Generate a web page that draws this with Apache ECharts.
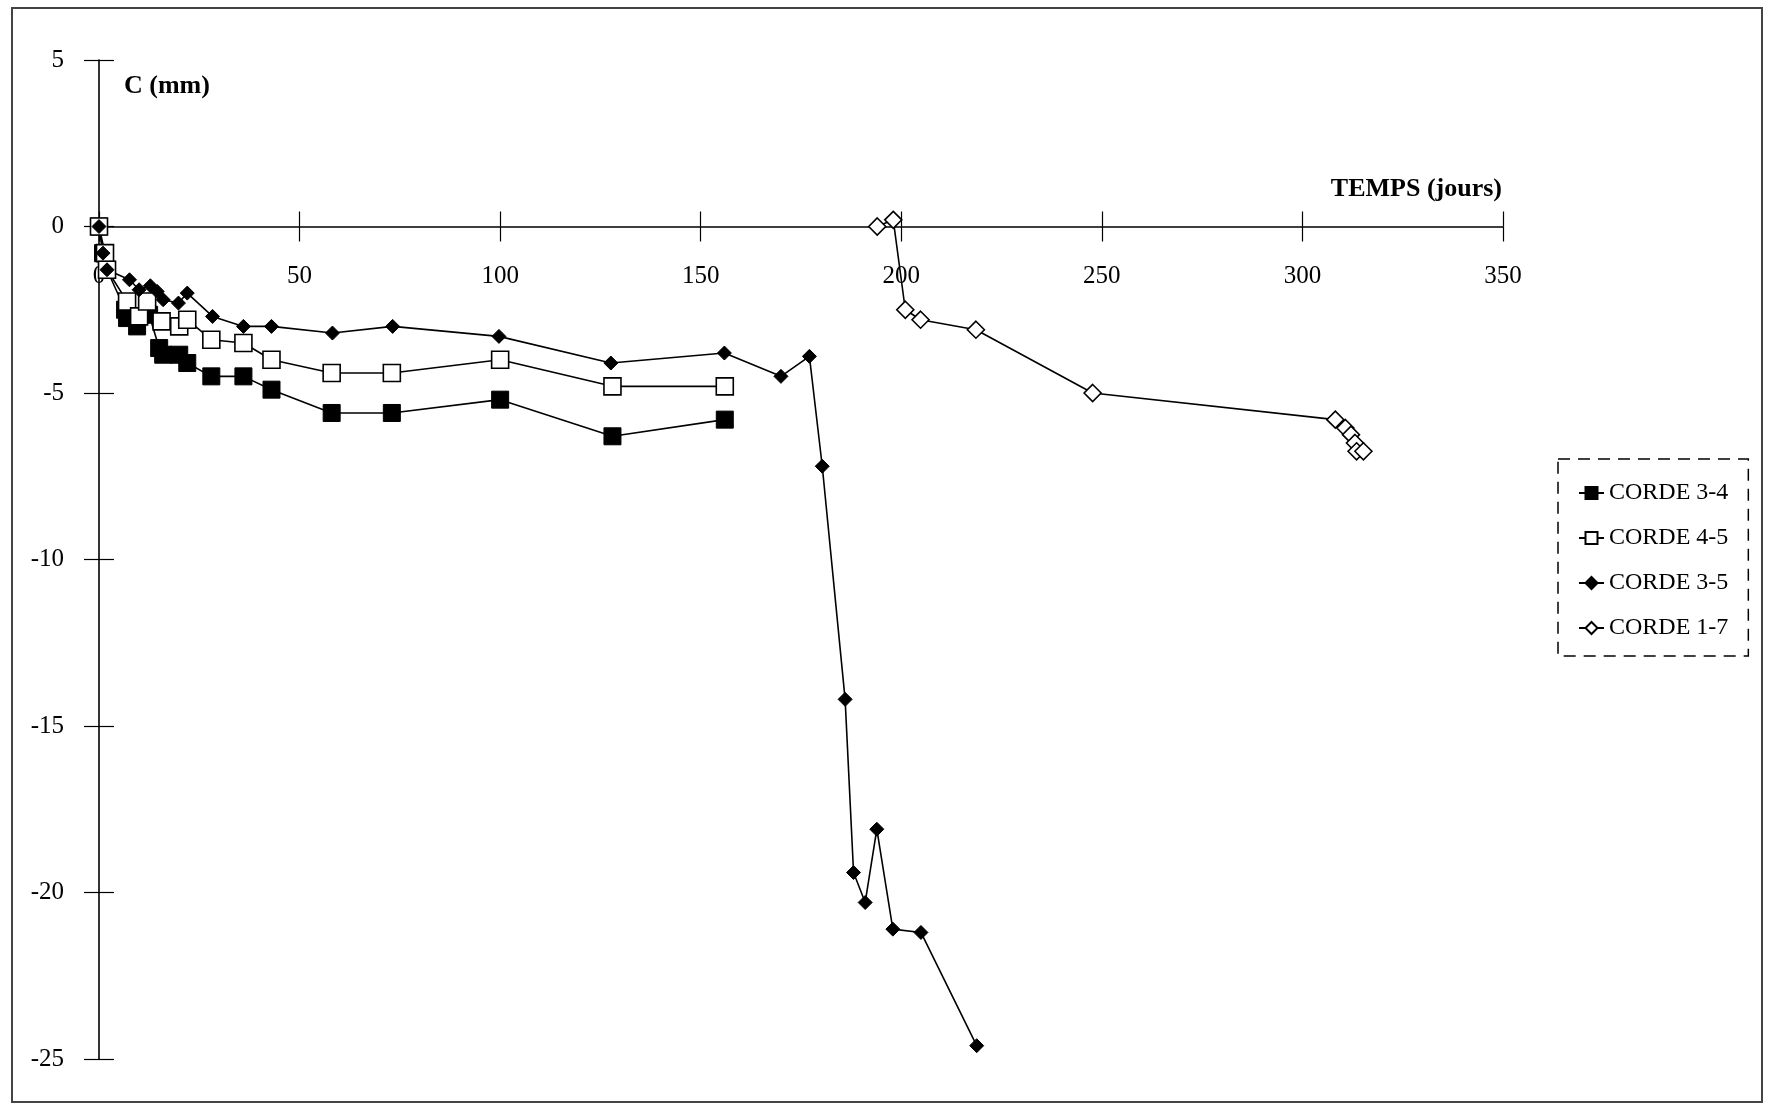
<!DOCTYPE html>
<html>
<head>
<meta charset="utf-8">
<script src="https://cdn.jsdelivr.net/npm/echarts@6/dist/echarts.min.js"></script>
<style>
html,body{margin:0;padding:0;background:#fff;}
#chart{width:1768px;height:1105px;}
</style>
</head>
<body>
<div id="chart"></div>
<script>
// ---- data (x: jours, y: C in mm) ----
const seriesNames = ['CORDE 3-4', 'CORDE 4-5', 'CORDE 3-5', 'CORDE 1-7'];

const corde34 = [[0,0],[1,-0.8],[2,-1.3],[6.5,-2.5],[7,-2.75],[9.5,-3.0],[12.5,-2.65],[15,-3.65],[16,-3.85],[20,-3.85],[22,-4.1],[28,-4.5],[36,-4.5],[43,-4.9],[58,-5.6],[73,-5.6],[100,-5.2],[128,-6.3],[156,-5.8]];

const corde45 = [[0,0],[1.5,-0.8],[2,-1.3],[7,-2.25],[10,-2.7],[12,-2.25],[15.6,-2.85],[20,-3.0],[22,-2.8],[28,-3.4],[36,-3.5],[43,-4.0],[58,-4.4],[73,-4.4],[100,-4.0],[128,-4.8],[156,-4.8]];

const corde35 = [[0,0],[1,-0.8],[2,-1.3],[7.6,-1.6],[10,-1.9],[12.8,-1.78],[14.5,-1.95],[16,-2.2],[19.8,-2.3],[22,-2.0],[28.3,-2.7],[36,-3.0],[43,-3.0],[58.2,-3.2],[73.2,-3.0],[99.7,-3.3],[127.6,-4.1],[155.9,-3.8],[170,-4.5],[177.1,-3.9],[180.3,-7.2],[186,-14.2],[188.1,-19.4],[191,-20.3],[193.9,-18.1],[197.9,-21.1],[204.9,-21.2],[218.8,-24.6]];

const corde17 = [[194,0],[198,0.2],[201,-2.5],[204.8,-2.8],[218.6,-3.1],[247.7,-5.0],[308.2,-5.8],[310.7,-6.05],[312.1,-6.25],[313.1,-6.5],[313.5,-6.75],[315.2,-6.75]];

const xTicks = {min: 0, max: 350, interval: 50};
const yTicks = {min: -25, max: 5, interval: 5};

const FONT = 'Liberation Serif';
const chart = echarts.init(document.getElementById('chart'), null, {renderer: 'canvas'});

// grid geometry
const GRID_TOP = 60, GRID_H = 999;
// distance of the value-0 line below the grid top
const zeroOffset = GRID_H * (yTicks.max - 0) / (yTicks.max - yTicks.min);

const lineStyle = {color: '#000', width: 1.6};
function mkSeries(name, data, symbol, size, filled) {
  return {
    name: name, type: 'line', data: data, symbol: symbol, symbolSize: size,
    xAxisIndex: 0, yAxisIndex: 0,
    lineStyle: lineStyle,
    itemStyle: filled ? {color: '#000', borderColor: '#000', borderWidth: 1}
                      : {color: '#fff', borderColor: '#000', borderWidth: 1.6},
    emphasis: {disabled: true},
    animation: false
  };
}

const baseX = {type: 'value', min: xTicks.min, max: xTicks.max, interval: xTicks.interval, splitLine: {show: false}};
const baseY = {type: 'value', min: yTicks.min, max: yTicks.max, interval: yTicks.interval, splitLine: {show: false}};

chart.setOption({
  backgroundColor: '#fff',
  animation: false,
  grid: {left: 99, top: GRID_TOP, width: 1404, height: GRID_H, containLabel: false},
  xAxis: [
    Object.assign({}, baseX, {
      position: 'top', offset: -zeroOffset,
      axisLine: {show: true, onZero: false, lineStyle: {color: '#000', width: 1.6}},
      axisTick: {show: true, inside: true, length: 15, lineStyle: {color: '#000', width: 1.2}},
      axisLabel: {inside: true, margin: 37, color: '#000', fontFamily: FONT, fontSize: 25}
    }),
    Object.assign({}, baseX, {
      position: 'top', offset: -zeroOffset,
      axisLine: {show: false, onZero: false},
      axisTick: {show: true, inside: false, length: 15, lineStyle: {color: '#000', width: 1.2}},
      axisLabel: {show: false}
    })
  ],
  yAxis: [
    Object.assign({}, baseY, {
      position: 'left',
      axisLine: {show: true, onZero: false, lineStyle: {color: '#000', width: 1.6}},
      axisTick: {show: true, inside: false, length: 15, lineStyle: {color: '#000', width: 1.2}},
      axisLabel: {margin: 35, color: '#000', fontFamily: FONT, fontSize: 25}
    }),
    Object.assign({}, baseY, {
      position: 'left',
      axisLine: {show: false, onZero: false},
      axisTick: {show: true, inside: true, length: 15, lineStyle: {color: '#000', width: 1.2}},
      axisLabel: {show: false}
    })
  ],
  legend: {
    orient: 'vertical',
    left: 1558, top: 459,
    data: seriesNames,
    itemWidth: 25, itemHeight: 15, itemGap: 21,
    padding: [22, 20, 16, 20],
    borderColor: '#000', borderWidth: 1.5, borderType: [12, 8],
    textStyle: {color: '#000', fontFamily: FONT, fontSize: 24},
    selectedMode: false
  },
  graphic: [
    {type: 'rect', silent: true, shape: {x: 12, y: 8, width: 1750, height: 1094},
     style: {fill: 'none', stroke: '#444', lineWidth: 2}},
    {type: 'text', left: 124, top: 73, silent: true,
     style: {text: 'C (mm)', fill: '#000', font: 'bold 26px "Liberation Serif"'}},
    {type: 'text', right: 266, top: 176, silent: true,
     style: {text: 'TEMPS (jours)', fill: '#000', font: 'bold 26px "Liberation Serif"'}}
  ],
  series: [
    mkSeries(seriesNames[0], corde34, 'rect', 17, true),
    mkSeries(seriesNames[1], corde45, 'rect', 17, false),
    mkSeries(seriesNames[2], corde35, 'diamond', 14, true),
    mkSeries(seriesNames[3], corde17, 'diamond', 17, false)
  ]
});
</script>
</body>
</html>
